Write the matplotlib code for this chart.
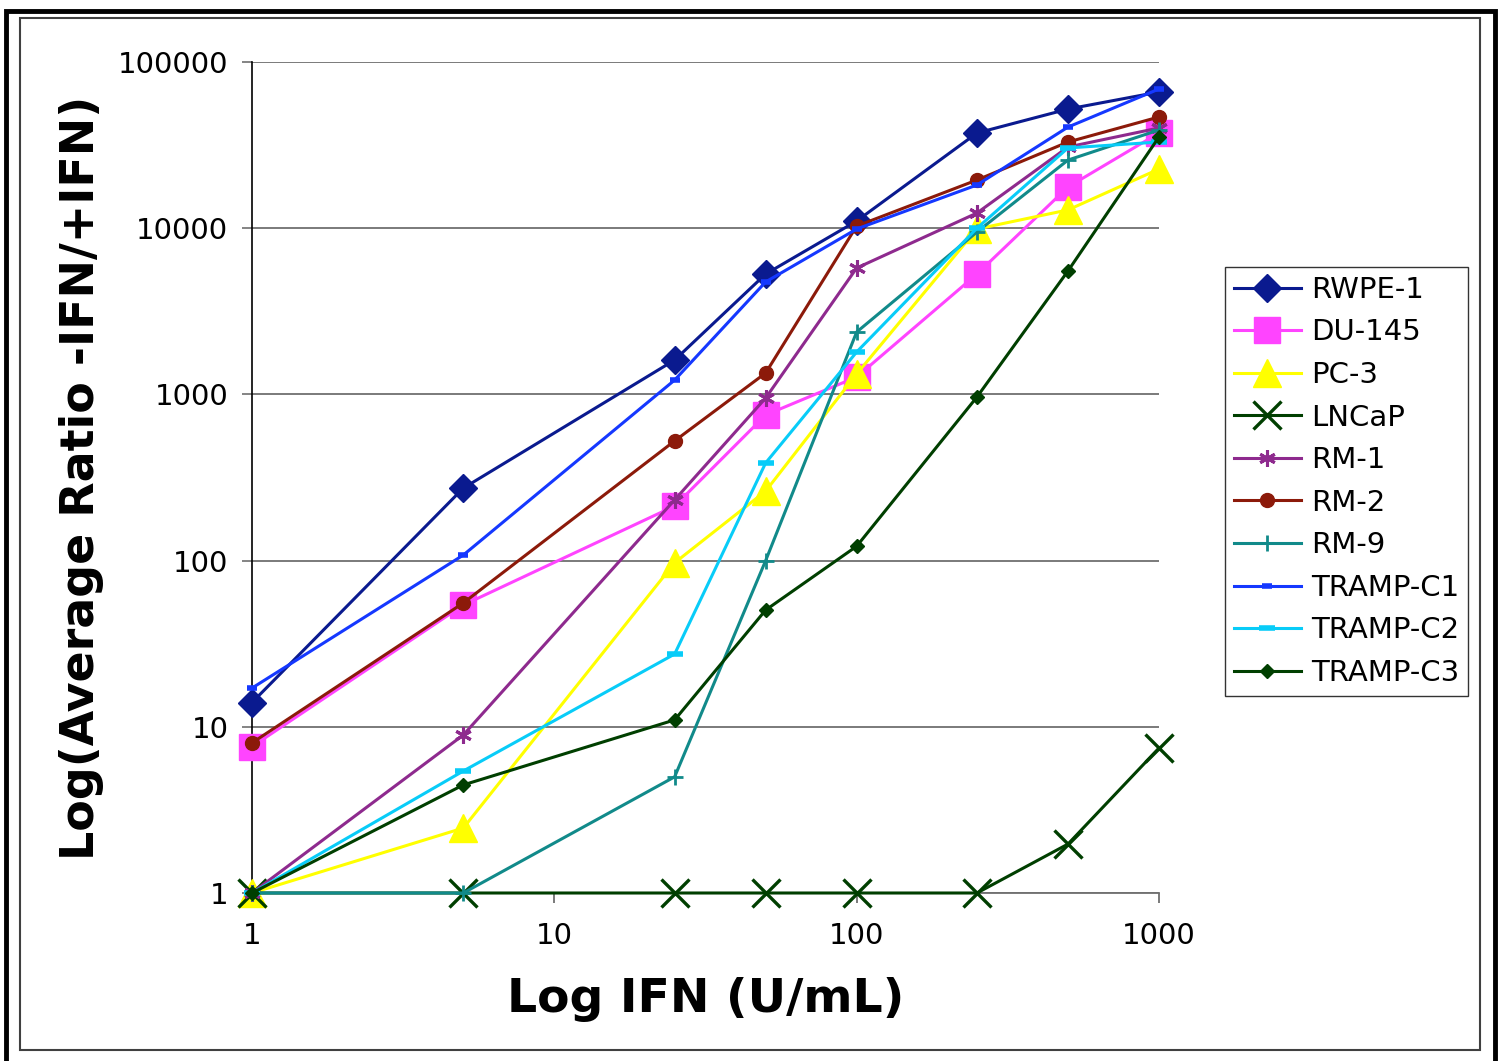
import matplotlib
matplotlib.use('Agg')
import matplotlib.pyplot as plt
from matplotlib.patches import Rectangle
from matplotlib.ticker import FixedLocator, FixedFormatter, NullLocator

plt.rcParams['font.family'] = ['DejaVu Sans']

# 数据
ifn = [1, 5, 25, 50, 100, 250, 500, 1000]

rwpe1 = [14, 273, 1610, 5300, 11050, 37400, 52100, 66000]
du145 = [7.6, 54, 213, 752, 1273, 5300, 17700, 37400]
pc3 = [1, 2.46, 97, 262, 1327, 9890, 12880, 22700]
lncap = [1, 1, 1, 1, 1, 1, 1.97, 7.45]
rm1 = [1, 8.93, 232, 951, 5760, 12340, 30800, 40100]
rm2 = [8, 55.6, 525, 1345, 10300, 19500, 33000, 46700]
rm9 = [1, 1, 5, 100, 2373, 9490, 25700, 39000]
tramp_c1 = [17.1, 108, 1220, 4750, 9890, 18200, 40600, 68800]
tramp_c2 = [1, 5.42, 27.4, 387, 1800, 10000, 30400, 33000]
tramp_c3 = [1, 4.47, 11, 50.4, 122, 965, 5530, 35400]

x_ticks = [1, 10, 100, 1000]
x_ticklabels = ['1', '10', '100', '1000']
y_ticks = [1, 10, 100, 1000, 10000, 100000]
y_ticklabels = ['1', '10', '100', '1000', '10000', '100000']

series = [
    ('RWPE-1', rwpe1, dict(color='#0A1A8F', marker='D', ms=14)),
    ('DU-145', du145, dict(color='#FF44FF', marker='s', ms=19)),
    ('PC-3', pc3, dict(color='#FFFF00', marker='^', ms=20)),
    ('LNCaP', lncap, dict(color='#003F00', marker='x', ms=20, mew=2.4)),
    ('RM-1', rm1, dict(color='#8E2A8E', marker=(6, 2, 0), ms=12, mew=2.2)),
    ('RM-2', rm2, dict(color='#8C1A0A', marker='o', ms=10)),
    ('RM-9', rm9, dict(color='#118A8A', marker='+', ms=12, mew=2)),
    ('TRAMP-C1', tramp_c1, dict(color='#1538FF', marker='_', ms=7, mew=4)),
    ('TRAMP-C2', tramp_c2, dict(color='#08CCF8', marker='_', ms=11, mew=4)),
    ('TRAMP-C3', tramp_c3, dict(color='#003F00', marker='D', ms=7)),
]

fig = plt.figure(figsize=(15.01, 10.61), dpi=100)

# 外框
fig.patches.append(Rectangle((6 / 1501, -0.01), 1489 / 1501, 1.0, transform=fig.transFigure,
                             fill=False, edgecolor='black', lw=3.5))
fig.patches.append(Rectangle((20 / 1501, 1 - 1050 / 1061), 1460 / 1501, 1032 / 1061,
                             transform=fig.transFigure, fill=False, edgecolor='#404040', lw=1.5))

ax = fig.add_axes([252 / 1501, 1 - 893 / 1061, (1159 - 252) / 1501, (893 - 62) / 1061])

for name, vals, style in series:
    ax.plot(ifn, vals, label=name, lw=2.2, clip_on=False, zorder=3,
            markerfacecolor=style['color'], markeredgecolor=style['color'], **style)

ax.set_xscale('log')
ax.set_yscale('log')
ax.set_xlim(1, 1000)
ax.set_ylim(1, 100000)

ax.xaxis.set_major_locator(FixedLocator(x_ticks))
ax.xaxis.set_major_formatter(FixedFormatter(x_ticklabels))
ax.xaxis.set_minor_locator(NullLocator())
ax.yaxis.set_major_locator(FixedLocator(y_ticks))
ax.yaxis.set_major_formatter(FixedFormatter(y_ticklabels))
ax.yaxis.set_minor_locator(NullLocator())

ax.grid(axis='y', color='#707070', lw=1.3, zorder=0)
ax.set_axisbelow(True)

ax.spines['top'].set_visible(False)
ax.spines['right'].set_visible(False)
ax.spines['left'].set_color('black')
ax.spines['left'].set_linewidth(1.2)
ax.spines['bottom'].set_color('#707070')
ax.spines['bottom'].set_linewidth(1.3)

ax.tick_params(axis='y', direction='out', length=7, width=1.2, color='#707070',
               labelsize=21, pad=10)
ax.tick_params(axis='x', direction='out', length=7, width=1.3, color='#707070',
               labelsize=21, pad=14)

ax.set_xlabel('Log IFN (U/mL)', fontsize=34, fontweight='bold', labelpad=19)
ax.set_ylabel('Log(Average Ratio -IFN/+IFN)', fontsize=33, fontweight='bold', labelpad=10)

leg = ax.legend(loc='upper left', bbox_to_anchor=(1225 / 1501, 1 - 267 / 1061),
                bbox_transform=fig.transFigure, fontsize=21, frameon=True,
                fancybox=False, edgecolor='black', borderpad=0.3, labelspacing=0.5,
                handlelength=2.3, handletextpad=0.35, borderaxespad=0)
leg.get_frame().set_linewidth(1.0)

fig.savefig('out.png', dpi=100)
plt.close(fig)
